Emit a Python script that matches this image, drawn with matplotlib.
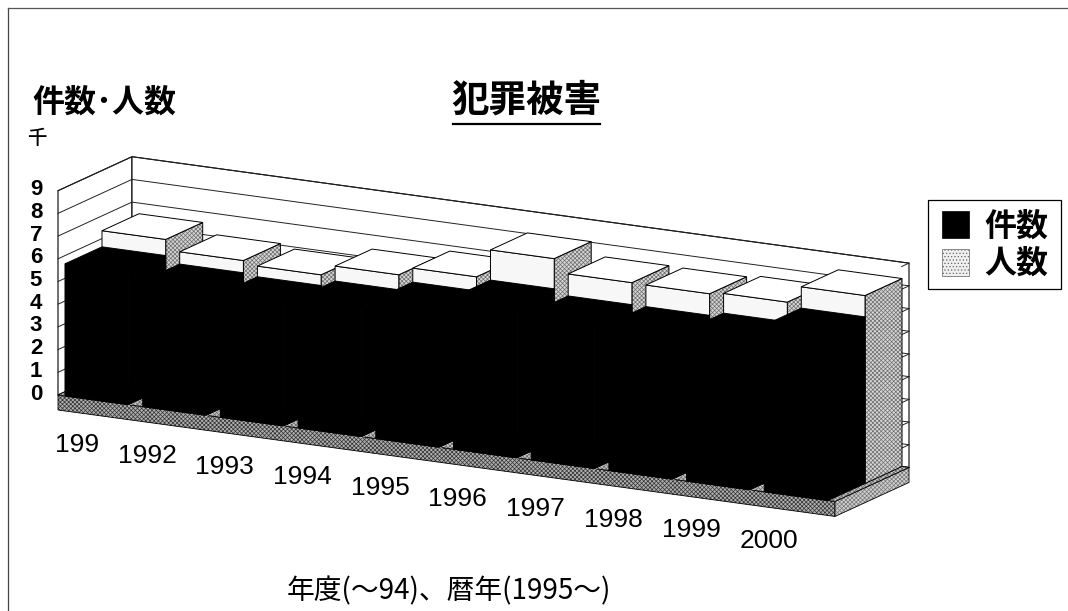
import numpy as np
import matplotlib
matplotlib.use("Agg")
import matplotlib.pyplot as plt
from matplotlib.patches import Polygon, Rectangle

plt.rcParams['font.family'] = ['Noto Sans CJK JP', 'DejaVu Sans']
plt.rcParams['hatch.linewidth'] = 0.5
DIGITS = ['Liberation Sans', 'DejaVu Sans']

# values in thousands
years = ['199', '1992', '1993', '1994', '1995', '1996', '1997', '1998', '1999', '2000']
cases = [5.82, 5.53, 5.44, 5.72, 6.14, 6.70, 6.47, 6.47, 6.65, 7.34]
people = [6.53, 6.07, 5.91, 6.38, 6.76, 8.03, 7.44, 7.42, 7.52, 8.28]
value_ticks = list(range(10))

# oblique projection fitted to the picture, all in pixels
ORIGIN = (58, 395)
CAT_W = 77.7
SLOPE = 0.137
UNIT = 22.7
DEPTH = (74, -34)
BAR_INSET = 0.09


def project(cat, val, depth=0.0):
    x = ORIGIN[0] + cat * CAT_W + depth * DEPTH[0]
    y = ORIGIN[1] + cat * CAT_W * SLOPE - val * UNIT + depth * DEPTH[1]
    return x, y


def face(ax, pts, fc, ec='black', lw=0.7, hatch=None, hatch_color=None, z=2):
    xy = [project(*p) for p in pts]
    if hatch:
        # hatch gets its own colour, the outline goes on top
        ax.add_patch(Polygon(xy, closed=True, facecolor=fc, edgecolor=hatch_color,
                             linewidth=0, hatch=hatch, zorder=z))
        fc = 'none'
    ax.add_patch(Polygon(xy, closed=True, facecolor=fc, edgecolor=ec, linewidth=lw, zorder=z))


def draw_bar(ax, i, val, d0, d1, front, top, side, z=3, **side_kw):
    c0, c1 = i + BAR_INSET, i + 1 - BAR_INSET
    # side first, then front and top
    face(ax, [(c1, 0, d0), (c1, 0, d1), (c1, val, d1), (c1, val, d0)], side, z=z, **side_kw)
    face(ax, [(c0, 0, d0), (c1, 0, d0), (c1, val, d0), (c0, val, d0)], front, z=z)
    face(ax, [(c0, val, d0), (c1, val, d0), (c1, val, d1), (c0, val, d1)], top, z=z)


fig = plt.figure(figsize=(10.68, 6.11), dpi=100)
ax = fig.add_axes([0, 0, 1, 1])
ax.set_xlim(0, 1068)
ax.set_ylim(611, 0)
ax.axis('off')

# outer frame of the scan
ax.plot([8, 8], [8, 611], color='#444444', lw=0.9)
ax.plot([8, 1068], [8, 8], color='#555555', lw=0.9)

n = len(years)
vmax = value_ticks[-1]

# walls and gridlines
face(ax, [(0, 0, 0), (0, 0, 1), (0, vmax, 1), (0, vmax, 0)], 'white', lw=0.8, z=1)
face(ax, [(0, 0, 1), (n, 0, 1), (n, vmax, 1), (0, vmax, 1)], 'white', lw=0.8, z=1)
for v in value_ticks:
    xs, ys = zip(project(0, v, 0), project(0, v, 1), project(n, v, 1))
    ax.plot(xs, ys, color='#222222', lw=0.7, zorder=1.5)
    xs, ys = zip(project(n, v, 1), project(n, v, 0.9))
    ax.plot(xs, ys, color='#222222', lw=0.7, zorder=1.5)

# floor plate
thick = -15 / UNIT
face(ax, [(0, thick, 0), (n, thick, 0), (n, 0, 0), (0, 0, 0)], '#b0b0b0', lw=0.6, hatch='xxxxxxxx', hatch_color='#333333', z=1.6)
face(ax, [(n, thick, 0), (n, thick, 1), (n, 0, 1), (n, 0, 0)], '#d0d0d0', lw=0.6, hatch='xxxxxxxx', hatch_color='#777777', z=1.6)
face(ax, [(0, 0, 0), (n, 0, 0), (n, 0, 1), (0, 0, 1)], '#c4c4c4', lw=0.6, hatch='xxxxxxxx', hatch_color='#666666', z=1.7)

# back row (people) then front row (cases), left to right
for i, val in enumerate(people):
    draw_bar(ax, i, val, 0.5, 1.0, '#f7f7f7', 'white', '#d6d6d6', z=3 + i * 0.01,
             hatch='xxxxxxxx', hatch_color='#6e6e6e')
for i, val in enumerate(cases):
    draw_bar(ax, i, val, 0.0, 0.5, 'black', 'black', 'black', z=4 + i * 0.01)

# small white category ticks in the gaps between the front bars
for i in range(n - 1):
    c = i + 1 - BAR_INSET
    xs, ys = zip(project(c, 0, 0), project(c, 0, 0.16))
    ax.plot(xs, ys, color='white', lw=1.3, zorder=3.9)

# value axis labels
for v in value_ticks:
    x, y = project(0, v, 0)
    ax.text(x - 22, y - 1, str(v), fontsize=16, fontweight='bold', family=DIGITS,
            ha='center', va='center', zorder=6)

# category labels hang below the front edge
for i, lab in enumerate(years):
    x, y = project(i + 0.5, 0, 0)
    ax.text(x - 27.5 + (8 if i == 0 else 0), y + 45, lab, fontsize=19, family=DIGITS,
            ha='center', va='center', zorder=6)

# titles
ax.text(526, 100, '犯罪被害', fontsize=27, fontweight='bold', ha='center', va='center')
ax.plot([453, 600], [124, 124], color='black', lw=1.6)
ax.text(104, 103, '件数･人数', fontsize=23, fontweight='bold', ha='center', va='center')
ax.text(37, 138, '千', fontsize=14, fontweight='medium', ha='center', va='center')
ax.text(449, 591, '年度(～94)、暦年(1995～)', fontsize=20, ha='center', va='center')

# legend
ax.add_patch(Rectangle((928, 200), 133, 89, facecolor='white', edgecolor='black', linewidth=0.9))
ax.add_patch(Rectangle((942, 211), 27, 27, facecolor='black', edgecolor='black', linewidth=0.5))
ax.add_patch(Rectangle((942, 249), 27, 27, facecolor='#efefef', edgecolor='#666666', linewidth=0.5, hatch='.....'))
ax.text(1016, 227, '件数', fontsize=23, fontweight='bold', ha='center', va='center')
ax.text(1016, 264, '人数', fontsize=23, fontweight='bold', ha='center', va='center')

fig.savefig('out.png', dpi=100)
